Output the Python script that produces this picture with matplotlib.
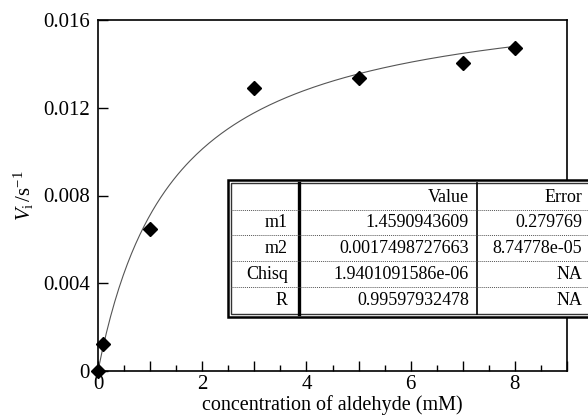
import numpy as np
import matplotlib
matplotlib.use("Agg")
import matplotlib.pyplot as plt
from matplotlib.ticker import MultipleLocator, FixedLocator

plt.rcParams['font.family'] = ['Liberation Serif', 'DejaVu Serif']
plt.rcParams['mathtext.fontset'] = 'custom'
plt.rcParams['mathtext.rm'] = 'Liberation Serif'
plt.rcParams['mathtext.it'] = 'Liberation Serif:italic'

# measured points
conc = [0, 0.1, 1, 3, 5, 7, 8]
rate = [0, 0.00123, 0.00647, 0.0129, 0.01337, 0.01405, 0.01474]

# fit results shown in the table
km = 1.4590943609
vmax = 0.017498727663
row_names = ["m1", "m2", "Chisq", "R"]
row_values = ["1.4590943609", "0.0017498727663", "1.9401091586e-06", "0.99597932478"]
row_errors = ["0.279769", "8.74778e-05", "NA", "NA"]

fig = plt.figure(figsize=(5.88, 4.2), dpi=100)
ax = fig.add_axes([98/588, 49/420, 469/588, 351/420])

# fitted michaelis-menten curve
xs = np.linspace(0, 8, 200)
ax.plot(xs, vmax * xs / (km + xs), color='#555555', lw=0.8)
ax.plot(conc, rate, 'D', color='black', ms=7, clip_on=False, zorder=5)

ax.set_xlim(0, 9)
ax.set_ylim(0, 0.016)
ax.xaxis.set_major_locator(MultipleLocator(1))
ax.xaxis.set_minor_locator(MultipleLocator(0.5))
ax.xaxis.set_major_formatter(plt.FuncFormatter(lambda v, p: "%d" % v if int(v) % 2 == 0 else ""))
ax.yaxis.set_major_locator(FixedLocator([0, 0.004, 0.008, 0.012, 0.016]))
ax.yaxis.set_major_formatter(plt.FuncFormatter(lambda v, p: "0" if v == 0 else "%.3f" % v))
ax.tick_params(direction='in', length=7, width=1, labelsize=15, pad=3)
ax.tick_params(which='minor', direction='in', length=4, width=1)
ax.tick_params(axis='y', pad=6)
for s in ax.spines.values():
    s.set_linewidth(1.2)

ax.set_xlabel("concentration of aldehyde (mM)", fontsize=14.5, labelpad=1)
ax.set_ylabel(r"$V_{\rm i}\,/{\rm s}^{-1}$", fontsize=15, labelpad=5)

# parameter table, drawn in pixel-like coords
tb = fig.add_axes([228/588, (420-317)/420, (600-228)/588, 137/420])
tb.set_xlim(228, 600)
tb.set_ylim(317, 180)
tb.axis('off')
tb.add_patch(plt.Rectangle((228, 180), 372, 137, facecolor='white', edgecolor='black', lw=1.8, clip_on=False))
tb.add_patch(plt.Rectangle((231, 183), 369, 131, facecolor='none', edgecolor='#333333', lw=1.0, clip_on=False))
tb.plot([299, 299], [183, 314], color='black', lw=2.4)
tb.plot([477, 477], [183, 314], color='black', lw=1.2)
for yy in [210, 235, 261, 287]:
    tb.plot([231, 600], [yy, yy], color='#555555', lw=0.7, ls=(0, (1, 1)))

fs = 13
tb.text(469, 197, "Value", ha='right', va='center', fontsize=fs)
tb.text(582, 197, "Error", ha='right', va='center', fontsize=fs)
for i, name in enumerate(row_names):
    yc = [222.5, 248, 274, 300.5][i]
    tb.text(288, yc, name, ha='right', va='center', fontsize=fs)
    tb.text(469, yc, row_values[i], ha='right', va='center', fontsize=fs)
    tb.text(582, yc, row_errors[i], ha='right', va='center', fontsize=fs)

fig.savefig("out.png", dpi=100)
